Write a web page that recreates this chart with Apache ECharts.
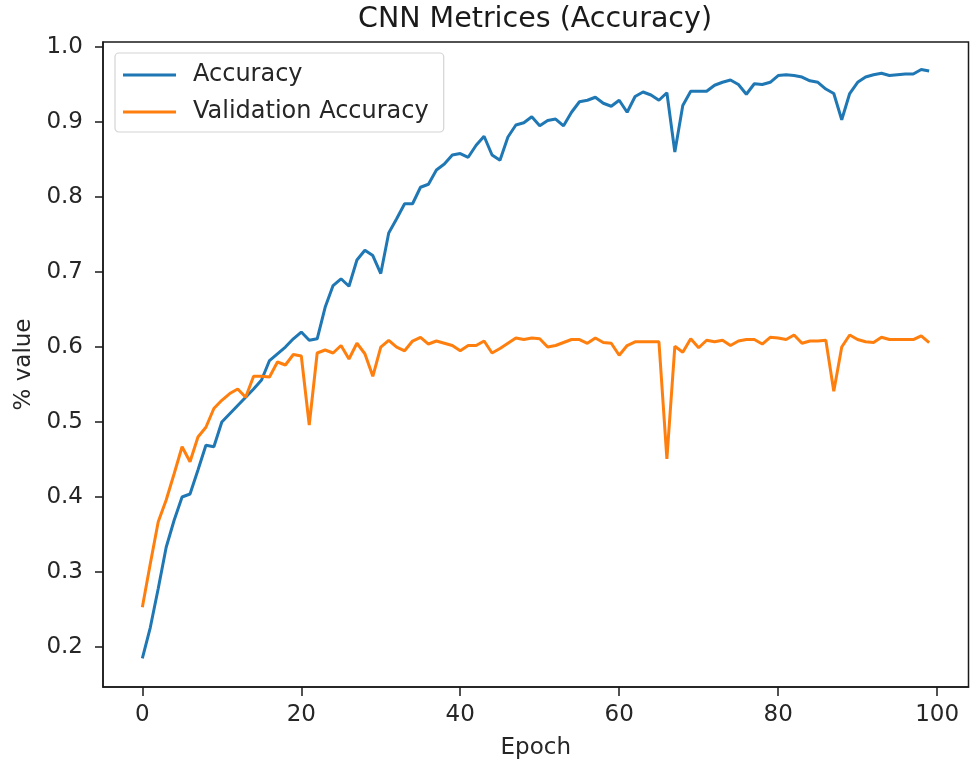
<!DOCTYPE html>
<html>
<head>
<meta charset="utf-8">
<title>CNN Metrices (Accuracy)</title>
<script src="https://cdn.jsdelivr.net/npm/echarts@6/dist/echarts.min.js"></script>
<style>
  html, body { margin: 0; padding: 0; background: #fff; }
  #chart { width: 971px; height: 769px; }
</style>
</head>
<body>
<div id="chart"></div>
<script>
// Training history, one value per epoch
const accuracy = [
  0.185, 0.226, 0.278, 0.333, 0.369, 0.400, 0.404, 0.436, 0.469, 0.467,
  0.500, 0.511, 0.522, 0.533, 0.544, 0.556, 0.582, 0.591, 0.600, 0.611,
  0.620, 0.609, 0.611, 0.653, 0.682, 0.691, 0.681, 0.716, 0.729, 0.722,
  0.698, 0.752, 0.771, 0.791, 0.791, 0.813, 0.817, 0.836, 0.844, 0.856,
  0.858, 0.853, 0.869, 0.881, 0.856, 0.849, 0.880, 0.896, 0.899, 0.907,
  0.895, 0.902, 0.904, 0.895, 0.913, 0.927, 0.929, 0.933, 0.925, 0.921,
  0.929, 0.913, 0.934, 0.940, 0.936, 0.929, 0.939, 0.860, 0.922, 0.941,
  0.941, 0.941, 0.949, 0.953, 0.956, 0.950, 0.937, 0.951, 0.950, 0.953,
  0.962, 0.963, 0.962, 0.960, 0.955, 0.953, 0.944, 0.938, 0.903, 0.938,
  0.953, 0.960, 0.963, 0.965, 0.962, 0.963, 0.964, 0.964, 0.970, 0.968
];
const valAccuracy = [
  0.253, 0.311, 0.367, 0.396, 0.431, 0.467, 0.447, 0.480, 0.493, 0.518,
  0.529, 0.538, 0.544, 0.533, 0.561, 0.561, 0.560, 0.580, 0.576, 0.590,
  0.588, 0.496, 0.592, 0.596, 0.592, 0.602, 0.584, 0.605, 0.591, 0.561,
  0.600, 0.609, 0.600, 0.595, 0.608, 0.613, 0.604, 0.608, 0.605, 0.602,
  0.595, 0.602, 0.602, 0.608, 0.592, 0.598, 0.605, 0.612, 0.610, 0.612,
  0.611, 0.600, 0.602, 0.606, 0.610, 0.610, 0.605, 0.612, 0.606, 0.605,
  0.589, 0.602, 0.607, 0.607, 0.607, 0.607, 0.451, 0.601, 0.593, 0.611,
  0.599, 0.609, 0.607, 0.609, 0.602, 0.608, 0.610, 0.610, 0.604, 0.613,
  0.612, 0.610, 0.616, 0.605, 0.608, 0.608, 0.609, 0.541, 0.600, 0.616,
  0.610, 0.607, 0.606, 0.613, 0.610, 0.610, 0.610, 0.610, 0.615, 0.606
];
const xTicks = [0, 20, 40, 60, 80, 100];
const yTicks = [0.2, 0.3, 0.4, 0.5, 0.6, 0.7, 0.8, 0.9, 1.0];

const epochs = accuracy.map((_, i) => i);
const toPairs = (vals) => vals.map((v, i) => [epochs[i], v]);

const FONT = 'DejaVu Sans';
const TEXT = '#262626';

const chart = echarts.init(document.getElementById('chart'), null, { renderer: 'canvas' });
chart.setOption({
  animation: false,
  backgroundColor: '#ffffff',
  title: {
    text: 'CNN Metrices (Accuracy)',
    left: 530,
    textAlign: 'center',
    top: 0,
    textStyle: { fontFamily: FONT, fontSize: 28.5, fontWeight: 'normal', color: '#1a1a1a' }
  },
  legend: {
    orient: 'vertical',
    left: 115,
    top: 53,
    padding: [10, 15, 8, 8],
    itemGap: 13,
    itemWidth: 53,
    itemHeight: 3,
    icon: 'rect',
    backgroundColor: 'rgba(255,255,255,0.8)',
    borderColor: '#d4d4d4',
    borderWidth: 1.2,
    borderRadius: 4,
    textStyle: {
      fontFamily: FONT, fontSize: 24, color: TEXT,
      lineHeight: 24, padding: [0, 0, 0, 12]
    },
    data: ['Accuracy', 'Validation Accuracy']
  },
  grid: {
    left: 103, right: 2.5, top: 42, bottom: 82,
    show: true, borderColor: '#1a1a1a', borderWidth: 1.5,
    backgroundColor: 'transparent',
    containLabel: false,
    outerBoundsMode: 'none'
  },
  xAxis: {
    type: 'value',
    min: -4.95,
    max: 103.95,
    name: 'Epoch',
    nameLocation: 'middle',
    nameGap: 50,
    nameTextStyle: { fontFamily: FONT, fontSize: 23, color: TEXT },
    axisLine: { show: true, onZero: false, lineStyle: { color: '#1a1a1a', width: 1.5 } },
    axisTick: { show: true, inside: false, length: 9, lineStyle: { color: '#1a1a1a', width: 1.5 }, customValues: xTicks },
    axisLabel: {
      fontFamily: FONT, fontSize: 23, color: TEXT, margin: 17,
      customValues: xTicks,
      formatter: (v) => String(Math.round(v))
    },
    splitLine: { show: false }
  },
  yAxis: {
    type: 'value',
    min: 0.1467,
    max: 1.0067,
    name: '% value',
    nameLocation: 'middle',
    nameRotate: 90,
    nameGap: 66,
    nameTextStyle: { fontFamily: FONT, fontSize: 23, color: TEXT },
    axisLine: { show: true, onZero: false, lineStyle: { color: '#1a1a1a', width: 1.5 } },
    axisTick: { show: true, inside: false, length: 8, lineStyle: { color: '#1a1a1a', width: 1.5 }, customValues: yTicks },
    axisLabel: {
      fontFamily: FONT, fontSize: 23, color: TEXT, margin: 20,
      customValues: yTicks,
      formatter: (v) => v.toFixed(1)
    },
    splitLine: { show: false }
  },
  series: [
    {
      name: 'Accuracy',
      type: 'line',
      data: toPairs(accuracy),
      symbol: 'none',
      color: '#1f77b4',
      lineStyle: { color: '#1f77b4', width: 3 },
      z: 3
    },
    {
      name: 'Validation Accuracy',
      type: 'line',
      data: toPairs(valAccuracy),
      symbol: 'none',
      color: '#ff7f0e',
      lineStyle: { color: '#ff7f0e', width: 3 },
      z: 4
    }
  ]
});
</script>
</body>
</html>
